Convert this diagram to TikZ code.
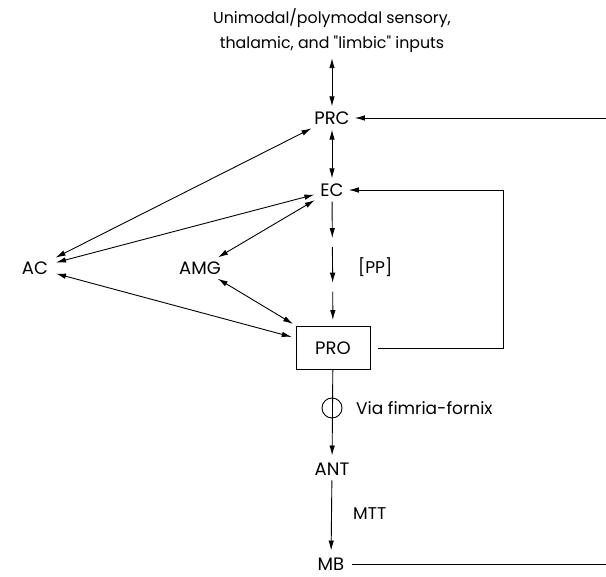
\documentclass[tikz,border=0pt]{standalone}
\usepackage{fontspec}
\setmainfont{Poppins}[Ligatures=TeXOff]
\usetikzlibrary{arrows.meta}

\tikzset{
  area/.style={inner sep=2pt, font=\fontsize{18}{21}\selectfont},
  note/.style={inner sep=2pt, anchor=west, font=\fontsize{17}{20}\selectfont},
  link/.style={line width=0.9pt, {Latex[length=10pt,width=5.5pt]}-{Latex[length=10pt,width=5.5pt]}},
  feed/.style={line width=0.9pt, -{Latex[length=10pt,width=5.5pt]}},
  wire/.style={line width=0.9pt}
}

\begin{document}
\begin{tikzpicture}[x=1pt,y=-1pt]
	\useasboundingbox (0,0) rectangle (606,577);
	% areas
	\node[inner sep=2pt, align=center, font=\fontsize{15.8}{25}\selectfont] (inp) at (332,31) {Unimodal/polymodal sensory,\\thalamic, and "limbic" inputs};
	\node[area] (prc) at (332,118) {PRC};
	\node[area] (ec) at (332,190) {EC};
	\node[area] (ac) at (35,268) {AC};
	\node[area] (amg) at (200,268) {AMG};
	\node[area, draw, line width=0.9pt, minimum width=74pt, minimum height=43pt] (pro) at (333,348) {PRO};
	\node[area] (ant) at (332,469) {ANT};
	\node[area] (mb) at (331,564) {MB};
	\node[note] (pp) at (356,267) {[PP]};
	\node[note] (fx) at (354,408) {Via fimria-fornix};
	\node[note] (mtt) at (351,514) {MTT};
	\coordinate (rin) at (606,118);
	\coordinate (rout) at (606,564);
	\coordinate (loop) at (503,348);

	% reciprocal links
	\draw[link, shorten <=3pt, shorten >=3pt] (inp) -- (prc);
	\draw[link, shorten <=3pt, shorten >=3pt] (prc) -- (ec);
	\draw[link, shorten <=6pt, shorten >=4pt] (ac) -- (prc);
	\draw[link, shorten <=6pt, shorten >=4pt] (ac) -- (ec);
	\draw[link, shorten <=4pt, shorten >=4pt] (amg) -- (ec);
	\draw[link, shorten <=4pt, shorten >=4pt] (amg) -- (pro);
	\draw[link, shorten <=6pt, shorten >=4pt] (ac) -- (pro);

	% perforant path
	\path (ec.south) -- (pro.north)
		coordinate[pos=0.31] (pp1) coordinate[pos=0.38] (pp2)
		coordinate[pos=0.66] (pp3) coordinate[pos=0.73] (pp4);
	\draw[feed, shorten <=3pt] (ec) -- (pp1);
	\draw[feed] (pp2) -- (pp3);
	\draw[feed, shorten >=6pt] (pp4) -- (pro);

	% feedback loops
	\draw[feed, shorten >=3pt] (rin) -- (prc);
	\draw[feed, shorten >=3pt] ([xshift=8pt]pro.east) -- (loop) |- (ec);

	% output
	\draw[feed, shorten >=5pt] (pro) -- (ant);
	\draw[wire] (332,408) circle (10pt);
	\draw[feed, shorten <=3pt, shorten >=5pt] (ant) -- (mb);
	\draw[wire, shorten <=6pt] (mb) -- (rout);
\end{tikzpicture}
\end{document}
